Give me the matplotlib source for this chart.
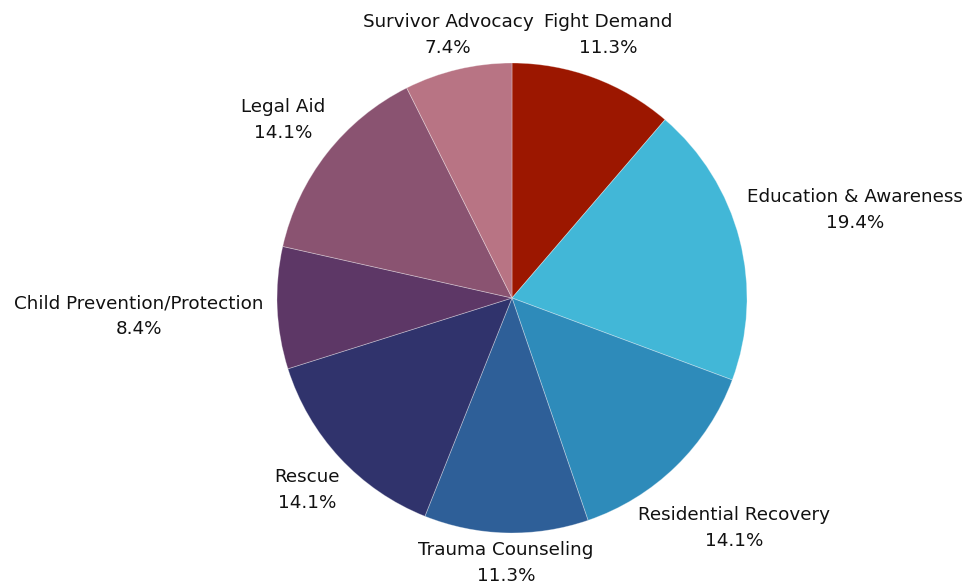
import matplotlib
matplotlib.use("Agg")
import matplotlib.pyplot as plt

categories = ["Fight Demand", "Education & Awareness", "Residential Recovery",
              "Trauma Counseling", "Rescue", "Child Prevention/Protection",
              "Legal Aid", "Survivor Advocacy"]
values = [11.3, 19.4, 14.1, 11.3, 14.1, 8.4, 14.1, 7.4]
colors = ["#9C1700", "#42B7D7", "#2E8BBA", "#2E5F98", "#30336C",
          "#5D3766", "#8A5371", "#B87484"]

# layout: label block centres in pixels (x from left, y from top)
label_px = [(608, 35), (855, 210), (734, 528), (506, 563),
            (307, 490), (139, 316), (283, 120), (448, 35)]

W, H = 965, 585
cx, cy, R = 512, 298, 235

fig = plt.figure(figsize=(W / 100, H / 100), dpi=100)
ax = fig.add_axes([0, 0, 1, 1])
ax.pie(values, colors=colors, startangle=90, counterclock=False,
       wedgeprops=dict(edgecolor=(1, 1, 1, 0.35), linewidth=0.6))
ax.set_xlim(-cx / R, (W - cx) / R)
ax.set_ylim((cy - H) / R, cy / R)
ax.set_axis_off()

for name, val, (px, py) in zip(categories, values, label_px):
    x = (px - cx) / R
    y = (cy - py) / R
    ax.text(x, y, f"{name}\n{val:.1f}%", ha="center", va="center",
            fontsize=13.2, color="#111111", linespacing=1.55,
            family="DejaVu Sans")

fig.savefig("out.png", dpi=100)
